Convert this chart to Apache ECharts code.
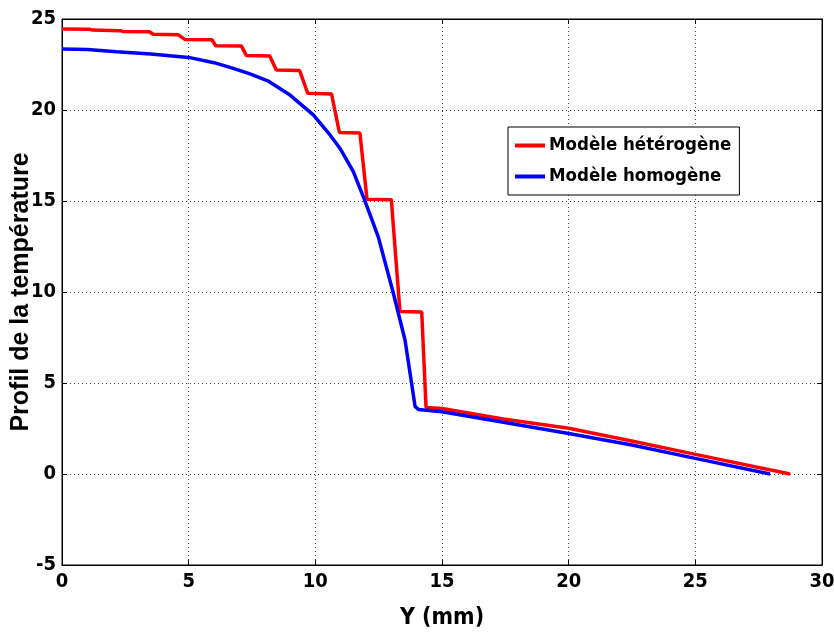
<!DOCTYPE html>
<html><head><meta charset="utf-8">
<script src="https://cdn.jsdelivr.net/npm/echarts@6/dist/echarts.min.js"></script>
<style>html,body{margin:0;padding:0;background:#fff}#c{width:834px;height:632px}</style>
</head><body><div id="c"></div>
<script>
const xTicks = [0,5,10,15,20,25,30];
const yTicks = [-5,0,5,10,15,20,25];
const seriesNames = ['Modèle hétérogène','Modèle homogène'];
const heteroX = [0,1.1,1.2,2.3,2.4,3.45,3.6,4.58,4.85,5.92,6.07,7.08,7.28,8.2,8.46,9.38,9.7,10.64,10.95,11.76,12.04,13.0,13.34,14.2,14.37,15,17.42,20,22.49,25,28.74];
const heteroY = [24.45,24.43,24.39,24.36,24.32,24.3,24.16,24.14,23.88,23.86,23.53,23.52,22.99,22.97,22.2,22.17,20.92,20.88,18.77,18.73,15.1,15.07,8.93,8.9,3.66,3.6,3.02,2.51,1.81,1.08,0];
const homoX = [0,1,2.16,3.5,5,6,6.76,7.42,8.15,9.0,9.92,10.58,10.97,11.5,11.93,12.2,12.49,13.08,13.54,13.94,14.07,15,17.42,20,22.49,25,27.95];
const homoY = [23.35,23.33,23.2,23.08,22.89,22.6,22.29,21.98,21.58,20.82,19.73,18.63,17.9,16.61,15.1,14.1,13.0,9.93,7.36,3.7,3.55,3.42,2.84,2.23,1.59,0.86,0];

const zip = (a,b)=>a.map((v,i)=>[v,b[i]]);
const CFONT = '"DejaVu Sans Condensed","Liberation Sans",sans-serif';
const FONT = '"Liberation Sans",Arial,sans-serif';
const chart = echarts.init(document.getElementById('c'),null,{renderer:'canvas'});
const splitStyle = {show:true,lineStyle:{color:'#444',type:[1,3],width:1}};
const lbl = {color:'#000',fontWeight:'bold',fontSize:20,fontFamily:CFONT};
chart.setOption({
  animation:false,
  backgroundColor:'#fff',
  grid:{left:62,right:12,top:19,bottom:67,containLabel:false,outerBoundsMode:'none',show:true,borderColor:'#000',borderWidth:1,backgroundColor:'transparent'},
  legend:{
    data:seriesNames, orient:'vertical', left:508, top:127,
    backgroundColor:'#fff', borderColor:'#000', borderWidth:1,
    padding:[9,8,9,7], itemGap:12, itemWidth:30, itemHeight:4,
    icon:'rect',
    textStyle:{color:'#000',fontWeight:'bold',fontSize:18.5,fontFamily:CFONT,padding:[0,0,0,-1]}
  },
  xAxis:[{
    type:'value',min:0,max:30,interval:5,position:'bottom',
    name:'Y (mm)',nameLocation:'middle',nameGap:42,nameMoveOverlap:false,
    nameTextStyle:{color:'#000',fontWeight:'bold',fontSize:23,fontFamily:CFONT},
    axisLine:{show:true,onZero:false,lineStyle:{color:'#000'}},
    axisTick:{show:true,inside:true,length:5,lineStyle:{color:'#000'}},
    axisLabel:Object.assign({margin:7,formatter:v=>xTicks.includes(v)?String(v):''},lbl),
    splitLine:splitStyle
  },{
    type:'value',min:0,max:30,interval:5,position:'top',
    axisLine:{show:true,onZero:false,lineStyle:{color:'#000'}},
    axisTick:{show:true,inside:true,length:5,lineStyle:{color:'#000'}},
    axisLabel:{show:false},splitLine:{show:false}
  }],
  yAxis:[{
    type:'value',min:-5,max:25,interval:5,position:'left',
    name:'Profil de la température',nameLocation:'middle',nameGap:28,nameMoveOverlap:false,
    nameTextStyle:{color:'#000',fontWeight:'bold',fontSize:25,fontFamily:FONT},
    axisLine:{show:true,onZero:false,lineStyle:{color:'#000'}},
    axisTick:{show:true,inside:true,length:5,lineStyle:{color:'#000'}},
    axisLabel:Object.assign({margin:6,formatter:v=>yTicks.includes(v)?String(v):''},lbl),
    splitLine:splitStyle
  },{
    type:'value',min:-5,max:25,interval:5,position:'right',
    axisLine:{show:true,onZero:false,lineStyle:{color:'#000'}},
    axisTick:{show:true,inside:true,length:5,lineStyle:{color:'#000'}},
    axisLabel:{show:false},splitLine:{show:false}
  }],
  series:[
    {name:seriesNames[0],type:'line',data:zip(heteroX,heteroY),showSymbol:false,symbol:'none',
     lineStyle:{color:'#ff0000',width:3.5},itemStyle:{color:'#ff0000'},z:3},
    {name:seriesNames[1],type:'line',data:zip(homoX,homoY),showSymbol:false,symbol:'none',
     lineStyle:{color:'#0000ff',width:3.5},itemStyle:{color:'#0000ff'},z:4}
  ]
});
</script></body></html>
